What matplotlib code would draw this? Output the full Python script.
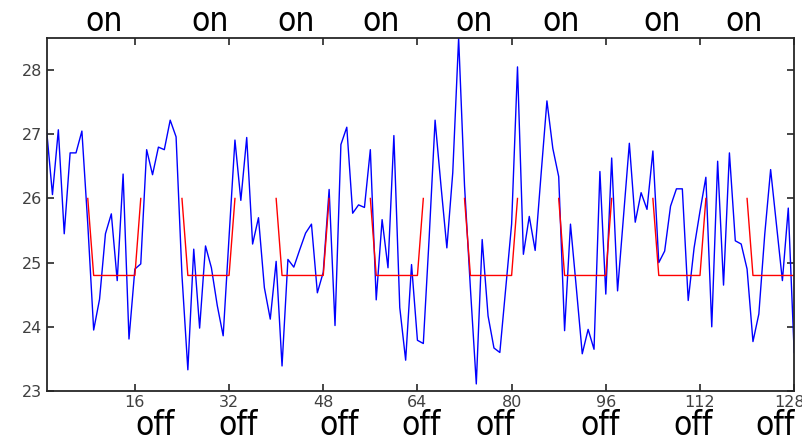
import numpy as np
import matplotlib.transforms as mtransforms
from matplotlib import pyplot as plt

# measured signal, one value per sample (1..128)
signal = [
    27.07, 26.06, 27.07, 25.45, 26.71, 26.71, 27.05, 25.60, 23.95, 24.43,
    25.45, 25.76, 24.72, 26.38, 23.81, 24.90, 24.98, 26.76, 26.37, 26.80,
    26.76, 27.22, 26.96, 24.80, 23.33, 25.21, 23.98, 25.26, 24.92, 24.33,
    23.86, 25.40, 26.91, 25.97, 26.95, 25.29, 25.70, 24.61, 24.12, 25.02,
    23.39, 25.05, 24.93, 25.20, 25.46, 25.60, 24.53, 24.85, 26.14, 24.02,
    26.84, 27.11, 25.77, 25.90, 25.86, 26.76, 24.42, 25.67, 24.92, 26.98,
    24.30, 23.48, 24.97, 23.79, 23.74, 25.40, 27.22, 26.20, 25.23, 26.40,
    28.50, 26.20, 24.60, 23.11, 25.36, 24.17, 23.67, 23.60, 24.60, 25.60,
    28.05, 25.13, 25.72, 25.19, 26.37, 27.52, 26.78, 26.34, 23.94, 25.60,
    24.60, 23.58, 23.96, 23.65, 26.42, 24.51, 26.63, 24.56, 25.70, 26.86,
    25.63, 26.09, 25.83, 26.74, 25.00, 25.18, 25.88, 26.15, 26.15, 24.41,
    25.23, 25.80, 26.33, 24.00, 26.58, 24.65, 26.71, 25.34, 25.29, 24.90,
    23.77, 24.20, 25.44, 26.45, 25.59, 24.72, 25.85, 23.60,
]

# reference curve: drops from high to low at each off period start
off_starts = [8, 24, 40, 56, 72, 88, 104, 120]
ref_high = 26.0
ref_low = 24.8
off_len = 8

on_labels = ["on"] * 8
off_labels = ["off"] * 8
on_pos = [10.7, 28.7, 43.4, 57.8, 73.6, 88.4, 105.6, 119.5]
off_pos = [19.4, 33.5, 50.7, 64.6, 77.2, 95.0, 110.8, 124.7]

xticks = [16, 32, 48, 64, 80, 96, 112, 128]
yticks = [23, 24, 25, 26, 27, 28]


def main():
    fig = plt.figure(figsize=(8.03, 4.42), dpi=100)
    ax = fig.add_axes([0.058, 0.1154, 0.931, 0.7986])

    x = np.arange(1, len(signal) + 1)
    ax.plot(x, signal, color="#0000ff", lw=1.0)

    n = len(signal)
    for s in off_starts:
        xs = [s] + list(range(s + 1, s + 1 + off_len)) + [s + 1 + off_len]
        ys = [ref_high] + [ref_low] * off_len + [ref_high]
        xs, ys = zip(*[(a, b) for a, b in zip(xs, ys) if a <= n])
        ax.plot(xs, ys, color="#ff0000", lw=1.0)

    ax.set_xlim(1, 128)
    ax.set_ylim(23, 28.5)
    ax.set_xticks(xticks)
    ax.set_yticks(yticks)
    ax.tick_params(direction="in", top=True, right=True, length=5,
                   width=1.2, colors="#262626", labelsize=11.5, pad=3)
    for lab in ax.get_xticklabels() + ax.get_yticklabels():
        lab.set_color("#404040")
    # keep the last x label inside the figure
    last = ax.get_xticklabels()[-1]
    last.set_transform(last.get_transform() +
                       mtransforms.ScaledTranslation(-5 / 100, 0, fig.dpi_scale_trans))
    for sp in ax.spines.values():
        sp.set_color("#262626")
        sp.set_linewidth(1.3)

    for p, t in zip(on_pos, on_labels):
        ax.text(p, 28.76, t, ha="center", va="center", fontsize=24,
                family="DejaVu Sans", fontstretch="condensed", clip_on=False)
    for p, t in zip(off_pos, off_labels):
        ax.text(p, 22.47, t, ha="center", va="center", fontsize=24,
                family="DejaVu Sans", fontstretch="condensed", clip_on=False)

    fig.savefig("out.png", dpi=100)


if __name__ == "__main__":
    main()
